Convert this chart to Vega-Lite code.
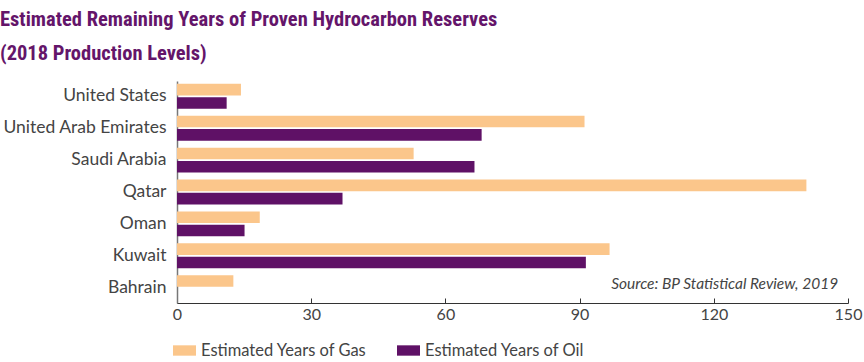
{
  "$schema": "https://vega.github.io/schema/vega-lite/v6.json",
  "autosize": {"type": "none"},
  "width": 671,
  "height": 222,
  "padding": {"left": 177, "top": 81, "right": 16, "bottom": 59},
  "background": "white",
  "title": {
    "text": ["Estimated Remaining Years of Proven Hydrocarbon Reserves", "(2018 Production Levels)"],
    "anchor": "start",
    "frame": "group",
    "dx": -177,
    "offset": 17,
    "font": "'Noto Sans ExtraCondensed', 'Roboto Condensed', 'Open Sans Condensed', 'Noto Sans Condensed', 'DejaVu Sans Condensed', sans-serif",
    "fontWeight": "bold",
    "fontSize": 20.5,
    "lineHeight": 34,
    "color": "#64156A"
  },
  "config": {
    "view": {"stroke": null},
    "font": "Lato",
    "axis": {"labelFont": "Lato", "labelColor": "#444444", "grid": false}
  },
  "layer": [
    {
      "data": {
        "values": [
          {"country": "United States", "type": "Estimated Years of Gas", "years": 14.3},
          {"country": "United States", "type": "Estimated Years of Oil", "years": 11.1},
          {"country": "United Arab Emirates", "type": "Estimated Years of Gas", "years": 91.1},
          {"country": "United Arab Emirates", "type": "Estimated Years of Oil", "years": 68.1},
          {"country": "Saudi Arabia", "type": "Estimated Years of Gas", "years": 52.9},
          {"country": "Saudi Arabia", "type": "Estimated Years of Oil", "years": 66.5},
          {"country": "Qatar", "type": "Estimated Years of Gas", "years": 140.7},
          {"country": "Qatar", "type": "Estimated Years of Oil", "years": 37.0},
          {"country": "Oman", "type": "Estimated Years of Gas", "years": 18.5},
          {"country": "Oman", "type": "Estimated Years of Oil", "years": 15.1},
          {"country": "Kuwait", "type": "Estimated Years of Gas", "years": 96.7},
          {"country": "Kuwait", "type": "Estimated Years of Oil", "years": 91.4},
          {"country": "Bahrain", "type": "Estimated Years of Gas", "years": 12.6}
        ]
      },
      "mark": {"type": "bar"},
      "encoding": {
        "y": {
          "field": "country",
          "type": "nominal",
          "sort": ["United States", "United Arab Emirates", "Saudi Arabia", "Qatar", "Oman", "Kuwait", "Bahrain"],
          "scale": {"paddingInner": 0.22, "paddingOuter": 0.09},
          "axis": {
            "title": null,
            "ticks": false,
            "domain": true,
            "domainColor": "#777777",
            "domainWidth": 1.5,
            "labelFontSize": 17.5,
            "labelPadding": 11
          }
        },
        "yOffset": {
          "field": "type",
          "type": "nominal",
          "scale": {"paddingInner": 0.13, "paddingOuter": 0}
        },
        "x": {
          "field": "years",
          "type": "quantitative",
          "scale": {"domain": [0, 150], "nice": false},
          "axis": {
            "title": null,
            "values": [0, 30, 60, 90, 120, 150],
            "domainColor": "#333333",
            "tickColor": "#333333",
            "tickSize": -5,
            "labelFontSize": 16,
            "labelPadding": 8,
            "labelFlush": false
          }
        },
        "color": {
          "field": "type",
          "type": "nominal",
          "scale": {"domain": ["Estimated Years of Gas", "Estimated Years of Oil"], "range": ["#FBC68B", "#5F1166"]},
          "legend": {
            "title": null,
            "orient": "none",
            "direction": "horizontal",
            "legendX": -4,
            "legendY": 258,
            "symbolType": "M-1,-0.45H1V0.45H-1Z",
            "symbolSize": 529,
            "symbolStrokeWidth": 0,
            "labelFont": "Lato",
            "labelFontSize": 16.5,
            "labelColor": "#444444",
            "labelOffset": 5,
            "labelLimit": 300,
            "columnPadding": 30
          }
        }
      }
    },
    {
      "data": {"values": [{"label": "Source: BP Statistical Review, 2019", "pos": 147.8, "country": "Bahrain"}]},
      "mark": {"type": "text", "align": "right", "baseline": "middle", "dy": -4, "font": "Lato", "fontStyle": "italic", "fontSize": 15.5, "color": "#444444"},
      "encoding": {
        "x": {"field": "pos", "type": "quantitative"},
        "y": {"field": "country", "type": "nominal", "sort": ["United States", "United Arab Emirates", "Saudi Arabia", "Qatar", "Oman", "Kuwait", "Bahrain"]},
        "text": {"field": "label"}
      }
    }
  ]
}
